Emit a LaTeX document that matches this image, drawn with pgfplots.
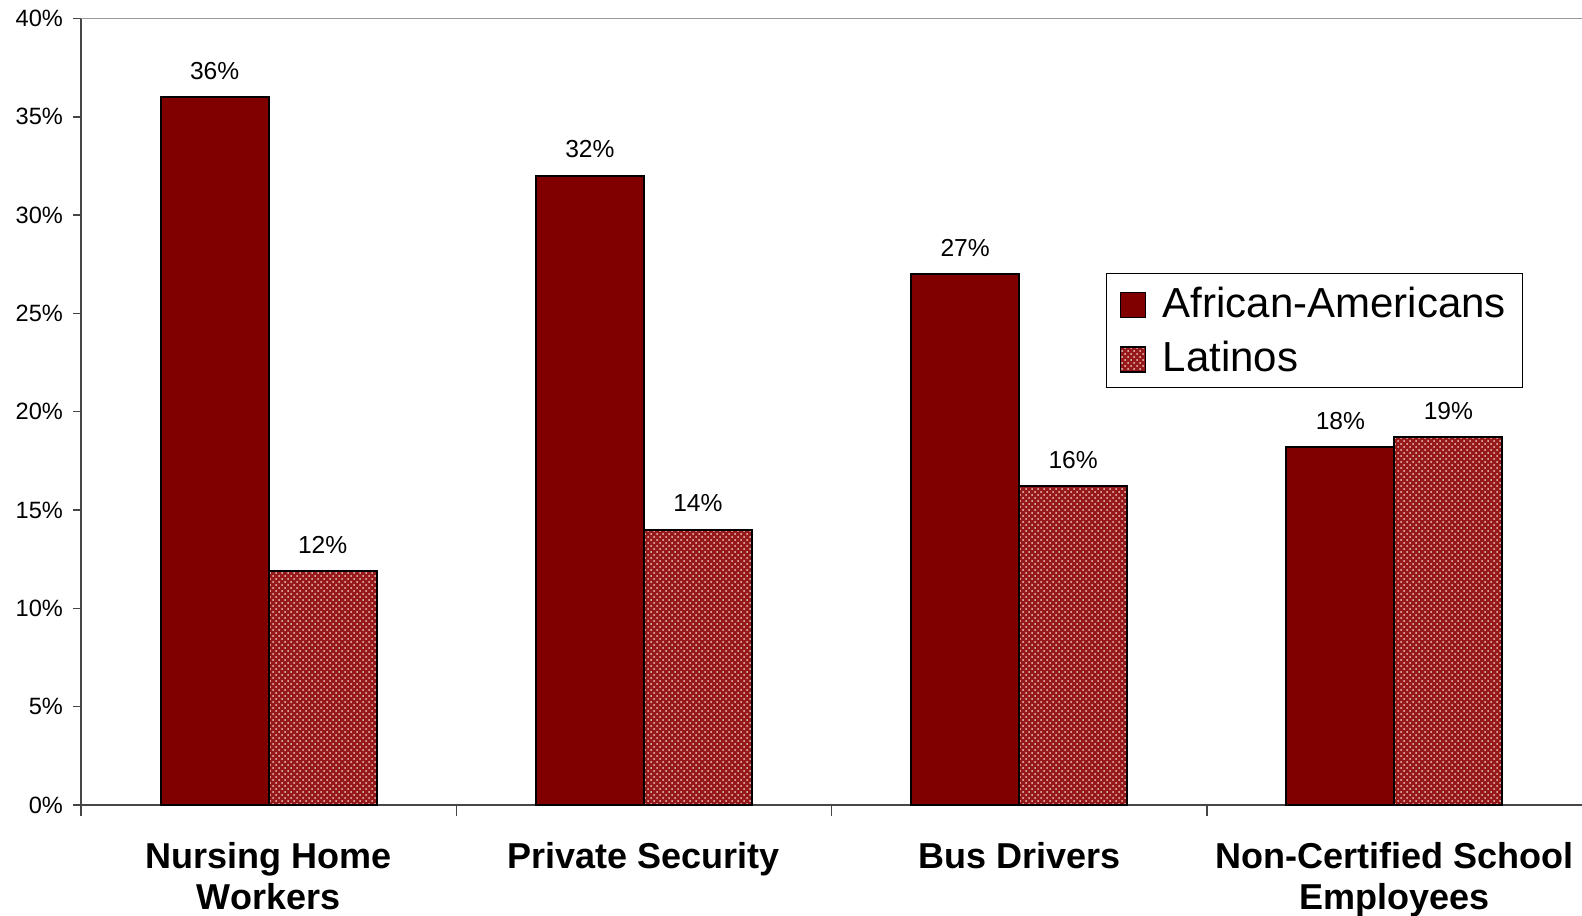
\documentclass[border=0pt]{standalone}
\usepackage{fontspec}
\setmainfont{Liberation Sans}
\usepackage{pgfplots}
\pgfplotsset{compat=1.18}
\usetikzlibrary{patterns}
\definecolor{maroonA}{RGB}{128,0,0}
\definecolor{latfill}{RGB}{150,25,25}
\definecolor{latdot}{RGB}{240,200,200}
\definecolor{axgray}{RGB}{70,70,70}
\begin{document}
\begin{tikzpicture}
\useasboundingbox (-40.5pt,-55pt) rectangle (750.5pt,402.5pt);
\begin{axis}[
  at={(0,0)}, anchor=south west,
  scale only axis, width=750.5pt, height=393.25pt,
  ybar=0pt, bar width=54pt,
  xmin=-0.5, xmax=3.5, ymin=0, ymax=40,
  axis x line*=bottom, axis y line*=left,
  axis line style={axgray, line width=0.75pt},
  every tick/.style={axgray, line width=0.75pt},
  tick align=outside,
  ytick={0,5,...,40},
  yticklabel={\pgfmathprintnumber{\tick}\%},
  major tick length=4pt,
  /pgf/number format/assume math mode=true,
  yticklabel style={font=\fontsize{11.8}{13}\selectfont, xshift=-1.5pt},
  xtick={0,1,2,3},
  major x tick style={draw=none},
  minor xtick={-0.5,0.5,1.5,2.5},
  minor tick length=5.5pt,
  xticklabels={{Nursing Home\\Workers},{Private Security},{Bus Drivers},{Non-Certified School\\Employees}},
  xticklabel style={align=center, font=\bfseries\fontsize{18}{20.8}\selectfont, yshift=-11pt},
  nodes near coords={\pgfmathprintnumber[fixed,precision=0]{\pgfplotspointmeta}\%},
  nodes near coords style={font=\fontsize{12.3}{14}\selectfont, text=black, yshift=5pt},
  legend style={at={(0.683,0.676)}, anchor=north west, draw=black, line width=0.5pt,
    font=\fontsize{21}{24}\selectfont, row sep=6.5pt, inner xsep=6.5pt, inner ysep=4.5pt,
    /tikz/every odd column/.append style={column sep=6.5pt}},
  legend cell align=left,
  legend image code/.code={\draw[#1, line width=0.6pt] (2pt,-7pt) rectangle (14.5pt,5.5pt);},
]
\draw[gray!80, line width=1pt] (rel axis cs:0,1) -- (rel axis cs:1,1);
\addplot[fill=maroonA, draw=black, line width=1pt] coordinates {(0,36) (1,32) (2,27) (3,18.2)};
\addplot[fill=latfill, draw=black, line width=1pt, postaction={pattern=crosshatch dots, pattern color=latdot}] coordinates {(0,11.9) (1,14) (2,16.2) (3,18.7)};
\legend{African-Americans, Latinos}
\end{axis}
\end{tikzpicture}
\end{document}
